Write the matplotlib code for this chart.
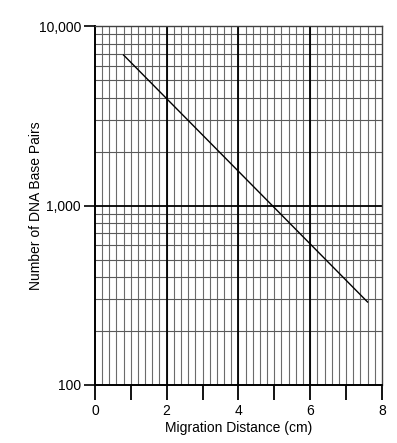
import numpy as np
import matplotlib
matplotlib.use('Agg')
import matplotlib.pyplot as plt
from matplotlib.ticker import FixedLocator, NullLocator

plt.rcParams['font.family'] = ['Liberation Sans', 'DejaVu Sans']

# standard curve
distance_cm = [0.8, 7.6]
base_pairs = [6900, 290]

x_major = [0, 2, 4, 6, 8]
x_minor = [1, 3, 5, 7]
y_major = [100, 1000, 10000]
y_labels = ['100', '1,000', '10,000']

fig = plt.figure(figsize=(3.97, 4.43), dpi=100)
ax = fig.add_axes([0.239, 0.131, 0.723, 0.810])
ax.set_yscale('log')
ax.set_xlim(0, 8)
ax.set_ylim(100, 10000)

# graph paper grid
fine_x = np.arange(0.2, 8.0, 0.2)
ax.vlines(fine_x, 100, 10000, color='0.42', lw=0.8, zorder=1)
ax.vlines([2, 4, 6], 100, 10000, color='black', lw=1.3, zorder=2)
log_lines = [m * d for d in (100, 1000) for m in range(2, 10)]
ax.hlines(log_lines, 0, 8, color='0.35', lw=0.8, zorder=1)
ax.hlines([1000], 0, 8, color='black', lw=1.3, zorder=2)

ax.plot(distance_cm, base_pairs, color='black', lw=1.0, zorder=3)

ax.xaxis.set_major_locator(FixedLocator(x_major))
ax.xaxis.set_minor_locator(FixedLocator(x_minor))
ax.yaxis.set_major_locator(FixedLocator(y_major))
ax.yaxis.set_minor_locator(NullLocator())
ax.set_yticklabels(y_labels)
ax.tick_params(axis='x', which='both', direction='out', length=11, width=1.3,
               labelsize=10, pad=3)
ax.tick_params(axis='y', which='major', direction='out', length=8, width=1.2,
               labelsize=10, pad=2)

for side in ['left', 'bottom']:
    ax.spines[side].set_linewidth(1.4)
for side in ['top', 'right']:
    ax.spines[side].set_linewidth(1.0)
    ax.spines[side].set_color('0.25')

ax.set_xlabel('Migration Distance (cm)', fontsize=10, labelpad=2)
ax.set_ylabel('Number of DNA Base Pairs', fontsize=10)
ax.yaxis.set_label_coords(-0.18, 0.5)

fig.savefig('out.png', dpi=100)
